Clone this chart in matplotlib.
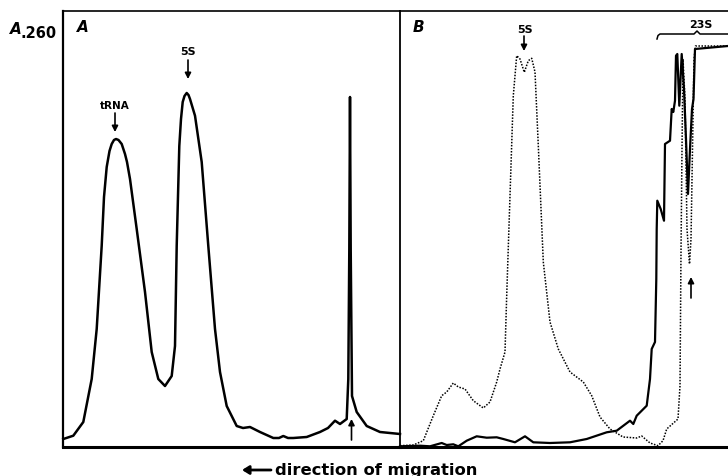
import matplotlib
matplotlib.use("Agg")
import matplotlib.pyplot as plt

# ---- data (gel position vs A260, arbitrary units) ----
a_pos = [0.3, 10.3, 20.3, 28.7, 33.7, 38.7, 41, 43.7, 46.5, 48.7, 51, 53, 55.5, 58.7, 62, 64, 67, 73.7, 82, 88.7,
         95.3, 102, 108.7, 112, 113.7, 116.3, 118, 119.7, 121.5, 123.7, 125.5, 127, 132, 138.7, 145.3, 152, 157,
         163.7, 173.7, 180, 187, 197, 210.3, 216, 220.3, 225, 230.3, 243.7, 257, 265, 272, 277, 283.7, 285.3,
         286.3, 287, 287.7, 289, 293.7, 303.7, 317, 337]
a_abs = [8, 11.3, 25, 68, 118, 201.3, 250, 280, 296, 303, 307, 308, 307, 303, 293, 285, 268, 218, 155, 95,
         68, 61, 71, 101, 201, 301, 328, 345, 351, 354, 352, 348, 331.3, 285, 201, 118, 75,
         41, 21, 19, 20, 15, 9, 9, 11, 9, 9, 10, 15, 19, 26.3, 23, 28, 68,
         198, 350, 198, 51, 35, 21, 15, 13]

b_pos_dotted = [0, 13.3, 23.3, 33.3, 41.7, 46.7, 53.3, 58.3, 65, 73.3, 83.3, 90, 96.7, 100, 105, 106.7,
                110, 113.3, 116.7, 120, 124.3, 128.3, 131.7, 135, 138.3, 143.3, 150, 158.3, 170, 183.3,
                191.7, 200, 210, 223, 236.7, 241.7, 250, 258, 263, 266.7, 278, 280, 281, 282, 283, 285,
                287, 289.5, 291, 292.5, 294, 295.5, 328]
b_abs_dotted = [1.3, 2, 6.3, 31.3, 51.3, 55, 64, 60, 58, 46.3, 39, 45, 65, 78, 95, 151.3,
                251.3, 351.3, 391.3, 388, 374.7, 386.3, 388.7, 375, 301.3, 185, 125, 98, 75, 65,
                51.3, 30, 18, 10, 9, 11, 4, 1.3, 6.3, 18, 28, 61.3, 195, 298, 388, 348,
                218, 183, 208, 298, 388, 401, 401]

b_pos_solid = [0, 20, 30, 41.7, 46.7, 53.3, 58.3, 66.7, 76.7, 86.7, 96.7, 103.3, 115, 125, 133.3, 150,
               170, 186.7, 206.7, 216.7, 230, 233.3, 236.7, 246.7, 250, 251.7, 255, 256.3, 256.7, 257.3,
               260.7, 264, 265, 270, 271.7, 273.3, 275, 276, 277.3, 279.3, 281.7, 284, 286, 288, 290,
               292, 293.5, 295, 328]
b_abs_solid = [0.7, 1.3, 0.7, 4, 2, 2.7, 0.7, 6.3, 10.7, 9.3, 9.7, 8, 4.7, 10.7, 4.7, 4,
               4.7, 8, 14.7, 16.3, 26.3, 23, 31.3, 41.3, 68, 98, 105, 168, 218, 246.3,
               238, 226.3, 303, 306.3, 338, 335, 346.3, 391.3, 393, 341.3, 393, 358, 308, 253, 298,
               338, 348, 398, 401]

W, H = 728, 477
fig = plt.figure(figsize=(W / 100, H / 100), dpi=100)
fig.patch.set_facecolor("white")

def fx(px):
    return px / W

def fy(py):
    return 1 - py / H

axA = fig.add_axes([fx(63), fy(448), fx(400) - fx(63), fy(12) - fy(448)])
axB = fig.add_axes([fx(400), fy(448), fx(728) - fx(400), fy(12) - fy(448)])

for ax, xmax in ((axA, 337), (axB, 328)):
    ax.set_xlim(0, xmax)
    ax.set_ylim(0, 436)
    ax.set_xticks([])
    ax.set_yticks([])
    ax.patch.set_alpha(0)
    for s in ax.spines.values():
        s.set_color("black")

axA.spines["left"].set_linewidth(1.6)
axA.spines["top"].set_linewidth(1.2)
axA.spines["bottom"].set_linewidth(2.2)
axA.spines["right"].set_linewidth(1.3)
axB.spines["left"].set_visible(False)
axB.spines["right"].set_visible(False)
axB.spines["top"].set_linewidth(1.2)
axB.spines["bottom"].set_linewidth(2.2)

axA.plot(a_pos, a_abs, color="black", lw=1.8, solid_joinstyle="round", clip_on=False)
axB.plot(b_pos_dotted, b_abs_dotted, color="black", lw=1.1, linestyle=(0, (1, 1.0)), clip_on=False)
axB.plot(b_pos_solid, b_abs_solid, color="black", lw=1.6, solid_joinstyle="round", clip_on=False)

bold = dict(fontweight="bold", color="black", family="DejaVu Sans")
arrowkw = dict(arrowstyle="-|>,head_length=0.35,head_width=0.18", color="black", lw=1.2, shrinkA=0, shrinkB=0)

# panel labels
axA.text(14, 420, "A", fontsize=11, style="italic", ha="left", va="center", **bold)
axB.text(13, 420, "B", fontsize=11, style="italic", ha="left", va="center", **bold)
fig.text(fx(10), fy(29), "A", fontsize=11, style="italic", ha="left", va="center", **bold)
fig.text(fx(21), fy(33), ".260", fontsize=10.5, ha="left", va="center", **bold)

# peak labels with arrows
axA.text(52, 342, "tRNA", fontsize=7.5, ha="center", va="center", **bold)
axA.annotate("", xy=(52, 315), xytext=(52, 334), arrowprops=arrowkw)
axA.text(125, 396, "5S", fontsize=8, ha="center", va="center", **bold)
axA.annotate("", xy=(125, 368), xytext=(125, 387), arrowprops=arrowkw)
axA.annotate("", xy=(288.5, 28), xytext=(288.5, 7), arrowprops=arrowkw)

axB.text(124.5, 418, "5S", fontsize=8, ha="center", va="center", **bold)
axB.annotate("", xy=(124, 396), xytext=(124, 411), arrowprops=arrowkw)
axB.annotate("", xy=(291, 170), xytext=(291, 149), arrowprops=arrowkw)
axB.text(301, 423, "23S", fontsize=8, ha="center", va="center", **bold)
axB.plot([257, 258, 260, 294, 297, 300, 328], [408, 411.5, 413, 413, 416, 413, 413],
         color="black", lw=1.1, clip_on=False)

# direction of migration
fig.text(fx(275), fy(471), "direction of migration", fontsize=11.8, ha="left", va="center", **bold)
fig.add_artist(matplotlib.patches.FancyArrowPatch((fx(271), fy(471)), (fx(242), fy(471)),
               transform=fig.transFigure, arrowstyle="-|>,head_length=4,head_width=2.5",
               color="black", lw=2.0, shrinkA=0, shrinkB=0))

fig.savefig("out.png", dpi=100, facecolor="white")
